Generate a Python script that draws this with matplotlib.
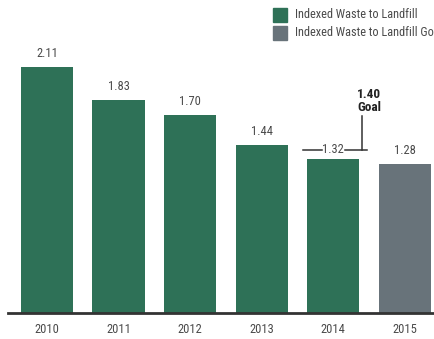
import matplotlib
matplotlib.use("Agg")
import matplotlib.pyplot as plt
from matplotlib.patches import Rectangle

years = ["2010", "2011", "2012", "2013", "2014", "2015"]
values = [2.11, 1.83, 1.70, 1.44, 1.32, 1.28]
value_labels = ["2.11", "1.83", "1.70", "1.44", "1.32", "1.28"]
goal_value = 1.40
goal_text = "1.40\nGoal"
legend_labels = ["Indexed Waste to Landfill", "Indexed Waste to Landfill Goal"]

green = "#2e7157"
gray = "#68737a"
text_color = "#4a4a4a"

plt.rcParams["font.family"] = ["Roboto Condensed", "DejaVu Sans"]

W, H = 435, 339
fig = plt.figure(figsize=(W / 100, H / 100), dpi=100)
ax = fig.add_axes([8 / W, 26 / H, 1 - 8 / W, 1 - 26 / H])

colors = [green] * 5 + [gray]
x = list(range(len(years)))
ax.bar(x, values, width=0.73, color=colors, zorder=2)

ax.set_xlim(-0.545, 5.42)
ax.set_ylim(0, 2.684)

for i, (v, lab) in enumerate(zip(values, value_labels)):
    if i == 4:
        continue
    ax.text(i, v + 0.06, lab, ha="center", va="bottom", fontsize=9, color=text_color)

# goal marker line around the 2014 bar
line_kw = dict(color="#333333", lw=1.1)
ax.plot([3.58, 3.84], [goal_value, goal_value], **line_kw)
ax.plot([4.16, 4.47], [goal_value, goal_value], **line_kw)
ax.plot([4.4, 4.4], [goal_value, goal_value + 0.29], **line_kw)
ax.text(4.0, goal_value, value_labels[4], ha="center", va="center", fontsize=9, color=text_color)
ax.text(4.33, goal_value + 0.31, goal_text, ha="left", va="bottom", fontsize=9.5,
        fontweight="bold", color="#222222", linespacing=0.95)

for s in ["top", "right", "left"]:
    ax.spines[s].set_visible(False)
ax.spines["bottom"].set_color("#333333")
ax.spines["bottom"].set_linewidth(2)
ax.set_yticks([])
ax.set_xticks(x)
ax.set_xticklabels(years, fontsize=9, color=text_color)
ax.tick_params(axis="x", length=0, pad=7)

# legend
for j, (lab, c) in enumerate(zip(legend_labels, [green, gray])):
    y0 = H - 22 - j * 18
    fig.patches.append(Rectangle((273 / W, y0 / H), 14 / W, 14 / H, color=c,
                                 transform=fig.transFigure, figure=fig))
    fig.text(295 / W, (y0 + 7) / H, lab, ha="left", va="center", fontsize=8.8, color=text_color)

fig.savefig("out.png", dpi=100)
